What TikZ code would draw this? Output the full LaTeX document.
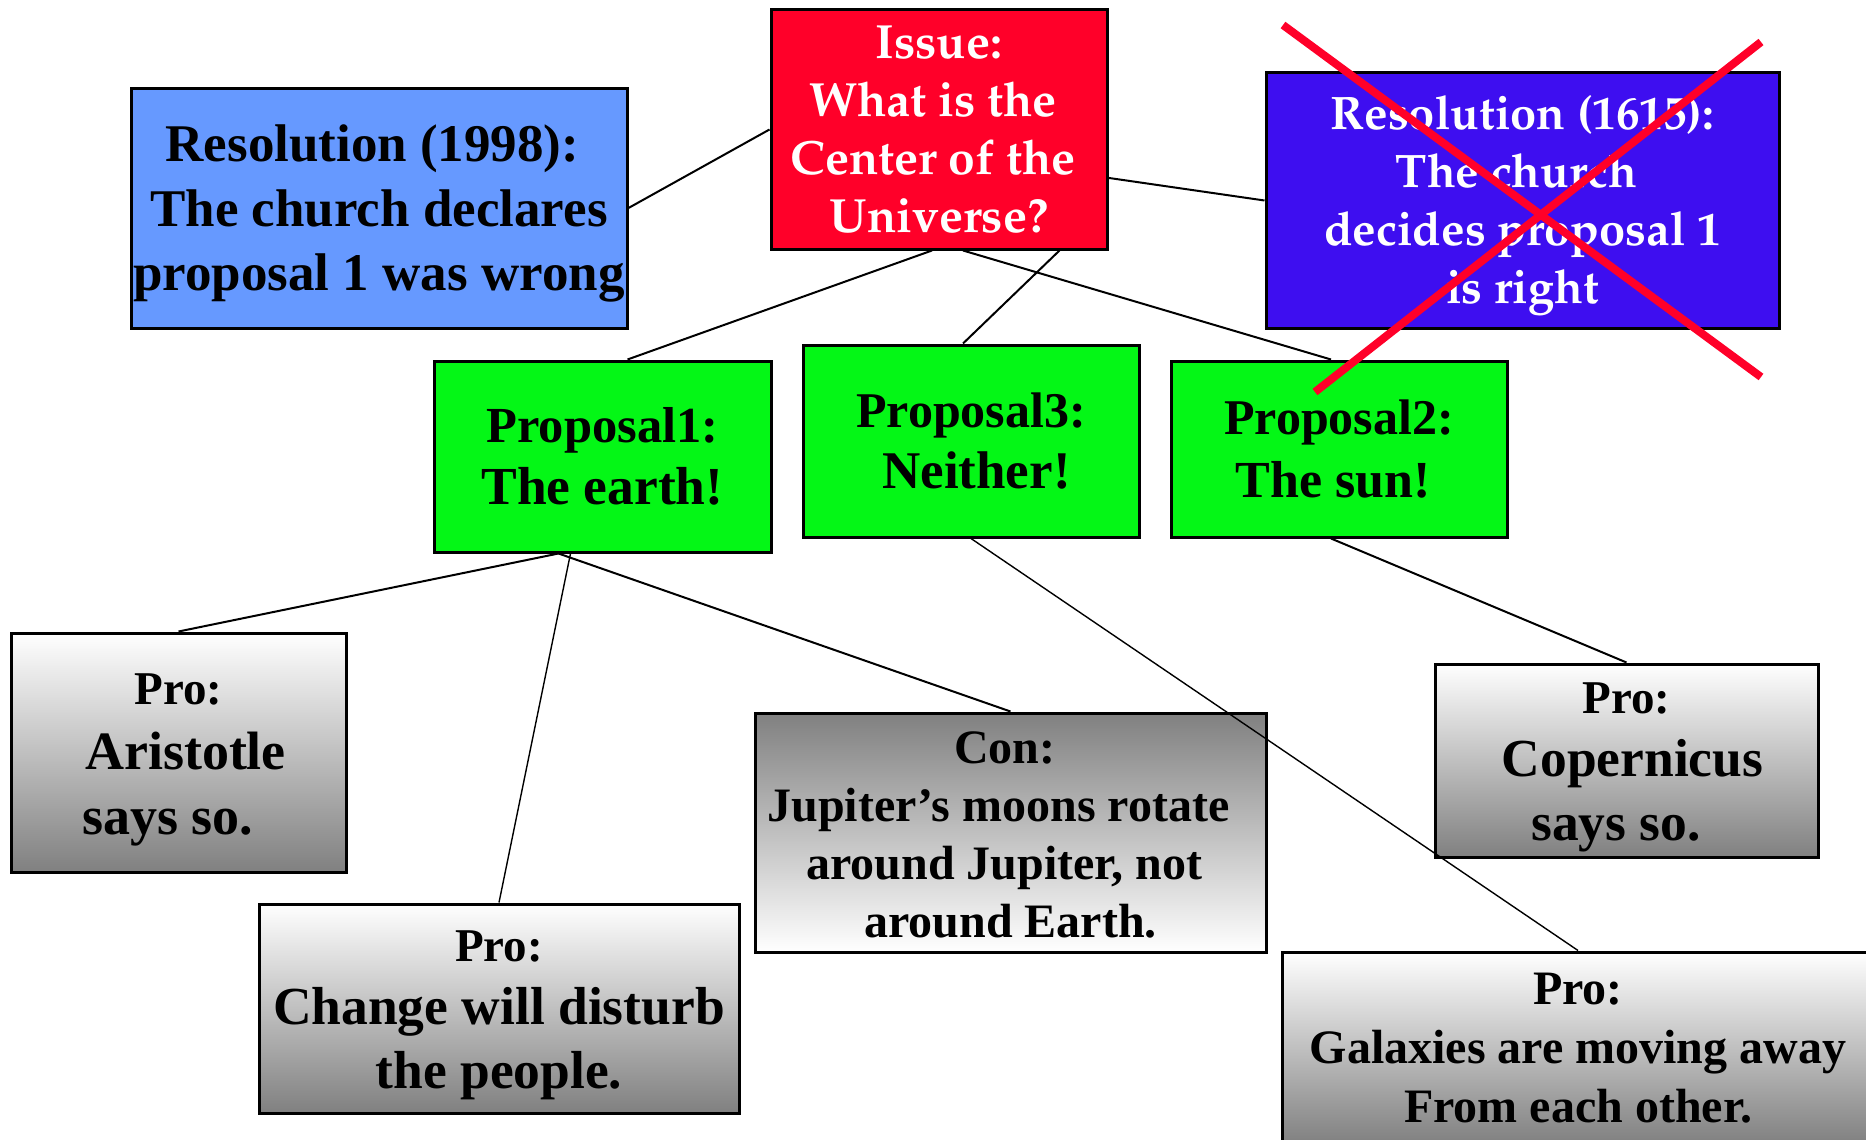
\documentclass[tikz,border=0pt]{standalone}
\usepackage[T1]{fontenc}
\usepackage{fontspec}
\setmainfont{Liberation Serif}
\usetikzlibrary{calc}

\definecolor{issuered}{RGB}{255,0,41}
\definecolor{resblue}{RGB}{102,153,255}
\definecolor{resviolet}{RGB}{62,14,240}
\definecolor{propgreen}{RGB}{4,247,22}
\definecolor{shadegray}{RGB}{128,128,128}

% Palatino bold for the white headings, Times-metric bold elsewhere
\newcommand{\palabold}[2]{\fontencoding{T1}\fontfamily{ppl}\fontseries{b}\fontshape{n}\fontsize{#1}{#2}\selectfont}
\newcommand{\tmsbold}[2]{\bfseries\fontsize{#1}{#2}\selectfont}
% extra room above the first line, pushes the text block down
\newcommand{\lowerby}[1]{\rule{0pt}{\dimexpr0.72em+#1\relax}}
% invisible spacer that survives at line ends
\newcommand{\gap}[1]{\rule{#1pt}{0pt}}

\begin{document}
\begin{tikzpicture}[x=1pt,y=-1pt,
  box/.style={draw=black, line width=3pt, inner sep=0pt, align=center, text=black},
  whitebox/.style={box, text=white},
  propbox/.style={box, fill=propgreen},
  argdown/.style={box, top color=white, bottom color=shadegray},
  argup/.style={box, top color=shadegray, bottom color=white},
  conn/.style={draw=black, line width=2pt},
  connthin/.style={draw=black, line width=1.4pt},
  strike/.style={draw=issuered, line width=8pt}
]
\clip (0,0) rectangle (1866,1140);
\fill[white] (0,0) rectangle (1866,1140);

% issue and resolutions
\node[whitebox, fill=issuered, minimum width=336, minimum height=239,
      font=\palabold{48}{58}] (issue) at (939,129.5)
  {Issue:\\What is the\gap{12}\\Center of the\gap{12}\\Universe?};
\node[box, fill=resblue, minimum width=496, minimum height=240,
      font=\tmsbold{53}{64.5}] (res98) at (379,208)
  {\lowerby{10pt}Resolution (1998):\gap{13}\\The church declares\\proposal 1 was wrong};
\node[whitebox, fill=resviolet, minimum width=513, minimum height=255,
      font=\palabold{47}{58}] (res15) at (1522.5,200.5)
  {\lowerby{10pt}Resolution (1615):\\The church\gap{12}\\decides proposal 1\\is right};

% proposals
\node[propbox, minimum width=337, minimum height=191,
      font=\tmsbold{50.5}{62}] (p1) at (602.5,456.5)
  {Proposal1:\\{\fontsize{53.5}{62}\selectfont The earth!}};
\node[propbox, minimum width=336, minimum height=192,
      font=\tmsbold{50}{61}] (p3) at (971,441)
  {Proposal3:\\{\fontsize{53}{61}\selectfont\gap{11}Neither!}};
\node[propbox, minimum width=336, minimum height=176,
      font=\tmsbold{50}{63}] (p2) at (1339,449)
  {Proposal2:\\{\fontsize{52}{63}\selectfont The sun!\gap{12}}};

% arguments
\node[argdown, minimum width=335, minimum height=239,
      font=\tmsbold{54}{65}] (aris) at (178.5,752.5)
  {{\fontsize{47}{65}\selectfont\lowerby{11pt}Pro:}\\\gap{14}Aristotle\\says so.\gap{21}};
\node[argdown, minimum width=480, minimum height=209,
      font=\tmsbold{53.5}{63.5}] (change) at (499,1008.5)
  {{\fontsize{47}{63.5}\selectfont\lowerby{10pt}Pro:}\\Change will disturb\\the people.};
\node[argup, minimum width=511, minimum height=239,
      font=\tmsbold{48}{58}] (con) at (1010.5,832.5)
  {\lowerby{2pt}Con:\gap{11}\\Jupiter’s moons rotate\gap{24}\\around Jupiter, not\gap{12}\\around Earth.};
\node[argdown, minimum width=383, minimum height=193,
      font=\tmsbold{53.5}{63.5}] (coper) at (1626.5,760.5)
  {{\fontsize{47}{63.5}\selectfont\lowerby{10pt}Pro:}\\\gap{12}Copernicus\\says so.\gap{21}};
\node[argdown, minimum width=592, minimum height=192,
      font=\tmsbold{48}{59}] (galax) at (1578,1048)
  {Pro:\\Galaxies are moving away\\From each other.};

% connectors
\draw[conn] (issue.west) -- (res98.east);
\draw[conn] ($(issue.north east)!0.7!(issue.south east)$) -- (res15.west);
\draw[conn] ([xshift=-7pt]issue.south) -- ([xshift=25pt]p1.north);
\draw[conn] ([xshift=24pt]issue.south) -- ([xshift=-8pt]p2.north);
\draw[conn] ([xshift=-49pt]issue.south east) -- ([xshift=-8pt]p3.north);
\draw[conn] ([xshift=-44pt]p1.south) -- (aris.north);
\draw[connthin] ([xshift=-32pt]p1.south) -- (change.north);
\draw[conn] ([xshift=-44pt]p1.south) -- (con.north);
\draw[connthin] (p3.south) -- (galax.north);
\draw[conn] ([xshift=-8pt]p2.south) -- (coper.north);

% strike-through over the 1615 resolution
\coordinate (sa1) at (1283,25);
\coordinate (sa2) at (1761,377);
\coordinate (sb1) at (1761,42);
\coordinate (sb2) at (1315,392);
\draw[strike] (sa1) -- (sa2);
\draw[strike] (sb1) -- (sb2);
\end{tikzpicture}
\end{document}
